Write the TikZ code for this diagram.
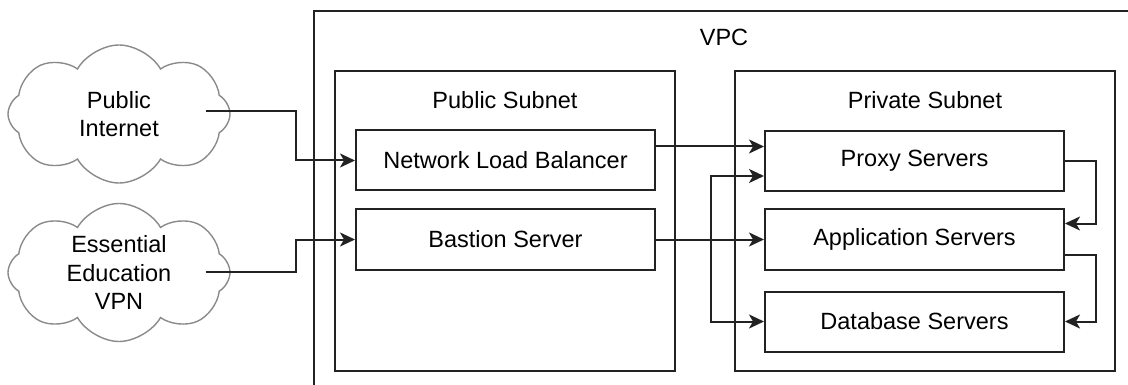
\documentclass[tikz,border=0pt]{standalone}
\usepackage{fontspec}
\setmainfont{Liberation Sans}
\usetikzlibrary{calc,shapes.symbols,arrows.meta}
\definecolor{boxline}{HTML}{222222}
\definecolor{cloudline}{HTML}{8A8A8A}
\tikzset{
	box/.style={draw=boxline,line width=2pt,minimum width=299pt,minimum height=60pt,inner sep=0pt},
	area/.style={draw=boxline,line width=2pt,inner sep=0pt},
	net/.style={cloud,cloud puffs=8,cloud puff arc=120,cloud ignores aspect,draw=cloudline,line width=1.4pt,minimum width=222pt,minimum height=138pt,inner sep=0pt,align=center},
	conn/.style={draw=boxline,line width=2pt,-{Stealth[length=15pt,width=14pt,inset=4pt]}},
}
\newcommand{\makesubnet}[5]{
	\node (#1) at (#2) [area,minimum width=#3,minimum height=#4] {};
	\node (N#1) at ($(#1.north) + (0,30)$) {#5};
}

\begin{document}
\begin{tikzpicture}[x=1pt,y=-1pt,font=\fontsize{23.5}{28.5}\selectfont]
	\useasboundingbox (0,0) rectangle (1128,385);
	\clip (0,0) rectangle (1128,385);
	% VPC runs off the page on the right and bottom
	\node (vpc) at (724,205.5) [area,minimum width=820pt,minimum height=389pt] {};
	\node (Nvpc) at ($(vpc.north) + (0,27)$) {VPC};
	\makesubnet{pub}{505,221}{340pt}{300pt}{Public Subnet}
	\makesubnet{priv}{925,221}{380pt}{300pt}{Private Subnet}
		\node (nlb) at (505.5,160.5) [box] {Network Load Balancer};
		\node (bastion) at (505.5,239.5) [box] {Bastion Server};
		\node (proxy) at (914.5,161) [box] {Proxy Servers};
		\node (app) at (914.5,239.5) [box] {Application Servers};
		\node (db) at (914.5,321.5) [box] {Database Servers};
	\node (inet) at (119,114) [net] {Public\\Internet};
	\node (vpn) at (119,272.5) [net] {Essential\\Education\\VPN};
	% into the VPC
	\draw[conn] ([xshift=-25pt,yshift=3pt]inet.east) -- ++(90,0) |- (nlb.west);
	\draw[conn] ([xshift=-25pt,yshift=1pt]vpn.east) -- ++(90,0) |- (bastion.west);
	% public to private
	\draw[conn] ([yshift=14pt]nlb.east) -- ([yshift=14pt]nlb.east -| proxy.west);
	\draw[conn] (bastion.east) -- (bastion.east -| app.west);
	\draw[conn] (bastion.east) -- ++(55,0) |- ([yshift=-15pt]proxy.west);
	\draw[conn] (bastion.east) -- ++(55,0) |- (db.west);
	% inside the private subnet
	\draw[conn] (proxy.east) -- ++(31,0) |- ([yshift=16pt]app.east);
	\draw[conn] ([yshift=-15pt]app.east) -- ++(31,0) |- (db.east);
\end{tikzpicture}
\end{document}
